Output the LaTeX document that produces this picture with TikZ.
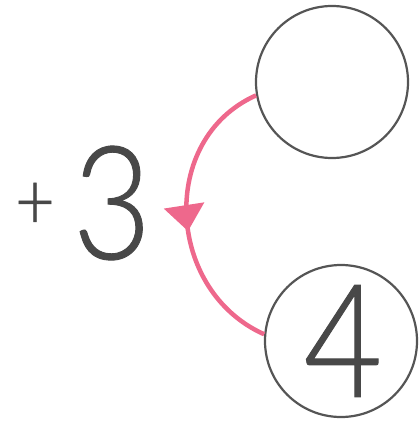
\documentclass[tikz,border=0pt]{standalone}
\usepackage{fontspec}
\setmainfont{Lato}
\newfontfamily\thindigits{Lato Light}[FakeStretch=0.86,FakeBold=0.6]
\usetikzlibrary{arrows.meta,decorations.markings}
\definecolor{ink}{RGB}{72,72,72}
\definecolor{rim}{RGB}{85,85,85}
\definecolor{pinkarr}{RGB}{238,104,140}
\tikzset{
  num/.style={circle,draw=rim,line width=2.2pt,minimum size=152pt,inner sep=0pt},
  big/.style={text=ink,inner sep=0pt,font=\thindigits\fontsize{158}{158}\selectfont},
  hop/.style={pinkarr,line width=4.5pt,decoration={markings,mark=at position 0.55 with {\arrow{Triangle[width=40pt,length=26pt]}}},postaction={decorate}},
}
\begin{document}
\begin{tikzpicture}[x=1pt,y=-1pt]
 \useasboundingbox (0,0) rectangle (419,423);
 \node[num] (top) at (332,82) {};
 \node[num] (bot) at (341,341) {};
 \node[big] (four) at (343,341) {4};
 \node[big] (three) at (112,203) {3};
 \node[text=ink,inner sep=0pt,font=\thindigits\fontsize{80}{80}\selectfont] (plus) at (35,206) {+};
 % step arrow
 \draw[hop] (top.190) to[out=204,in=156,looseness=1.15] (bot.175);
\end{tikzpicture}
\end{document}
